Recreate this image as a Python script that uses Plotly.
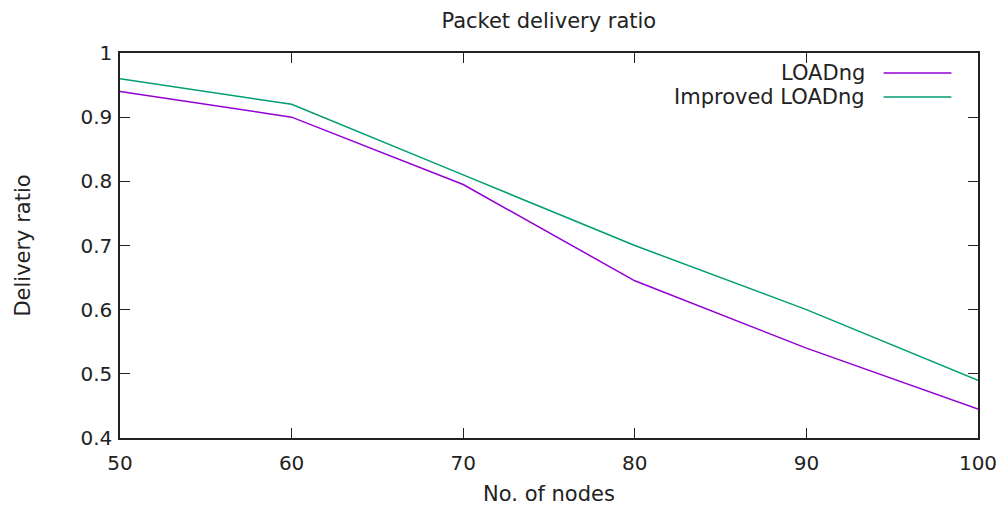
import plotly.graph_objects as go

nodes = [50, 60, 70, 80, 90, 100]
loadng = [0.94, 0.90, 0.795, 0.645, 0.54, 0.445]
improved = [0.96, 0.92, 0.81, 0.70, 0.60, 0.49]
series_names = ["LOADng", "Improved LOADng"]
colors = ["#9400d3", "#009e73"]

FONT = "DejaVu Sans"
fig = go.Figure()
for name, ys, c in zip(series_names, [loadng, improved], colors):
    fig.add_trace(go.Scatter(x=nodes, y=ys, mode="lines", name=name,
                             line=dict(color=c, width=1.5), showlegend=False))

# gnuplot-style legend: text right-aligned, sample line on the right
legend_y = [0.948, 0.886]
for name, c, ly in zip(series_names, colors, legend_y):
    fig.add_annotation(x=0.871, y=ly, xref="paper", yref="paper", text=name,
                       showarrow=False, xanchor="right", yanchor="middle",
                       font=dict(family=FONT, size=21, color="#222"))
    fig.add_shape(type="line", xref="paper", yref="paper",
                  x0=0.890, x1=0.969, y0=ly, y1=ly,
                  line=dict(color=c, width=1.5))

axis_common = dict(showline=True, linecolor="#222", linewidth=1.5, mirror="allticks",
                   ticks="inside", ticklen=10, tickcolor="#222", tickwidth=1,
                   showgrid=False, zeroline=False, automargin=False,
                   tickfont=dict(family=FONT, size=20, color="#222"))

fig.update_layout(
    width=1007, height=506,
    margin=dict(l=120, r=29, t=53, b=68),
    paper_bgcolor="white", plot_bgcolor="white",
    title=dict(text="Packet delivery ratio", x=0.545, xanchor="center", y=0.96, yanchor="middle",
               font=dict(family=FONT, size=21, color="#222")),
    xaxis=dict(range=[50, 100], tickvals=nodes, ticktext=[str(v) for v in nodes],
               ticklabelstandoff=6,
               title=dict(text="No. of nodes", font=dict(family=FONT, size=21, color="#222"), standoff=14),
               **axis_common),
    yaxis=dict(range=[0.4, 1.0], tickvals=[0.4, 0.5, 0.6, 0.7, 0.8, 0.9, 1.0],
               ticktext=["0.4", "0.5", "0.6", "0.7", "0.8", "0.9", "1"],
               ticklabelstandoff=2,
               title=dict(text="Delivery ratio", font=dict(family=FONT, size=21, color="#222"), standoff=44),
               **axis_common),
)

fig.write_html("out.html")
